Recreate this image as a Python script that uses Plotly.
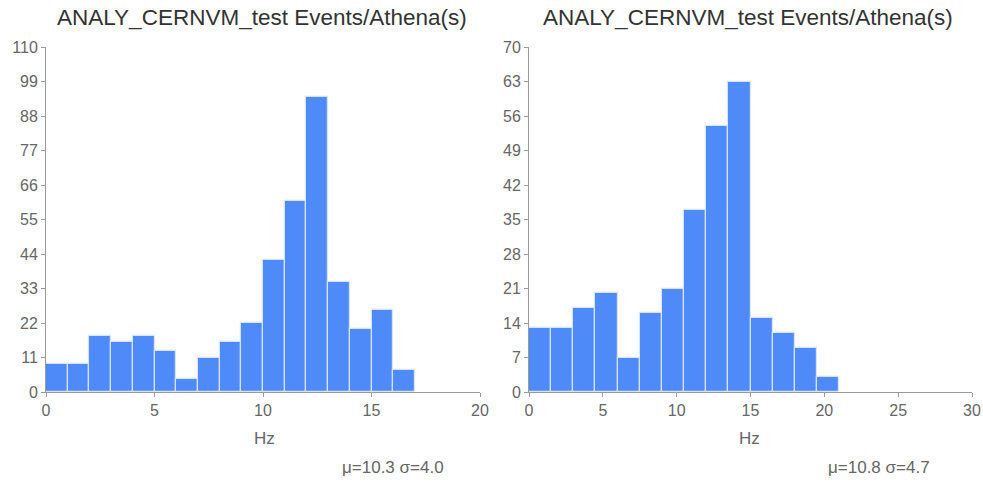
import plotly.graph_objects as go

# Left histogram (bin width 1)
left_edges_start = list(range(0, 17))
left_counts = [9, 9, 18, 16, 18, 13, 4, 11, 16, 22, 42, 61, 94, 35, 20, 26, 7]
left_bin_width = 1.0

# Right histogram (bin width 1.5)
right_edges_start = [i * 1.5 for i in range(14)]
right_counts = [13, 13, 17, 20, 7, 16, 21, 37, 54, 63, 15, 12, 9, 3]
right_bin_width = 1.5

titles = ["ANALY_CERNVM_test Events/Athena(s)", "ANALY_CERNVM_test Events/Athena(s)"]
stats = ["μ=10.3 σ=4.0", "μ=10.8 σ=4.7"]
xlabel = "Hz"

FONT = "Liberation Sans, Arial, sans-serif"
BAR = "#4e8af8"
AX = "#9a9a9a"

W, H = 983, 482
L, R, T, B = 46, 972, 47, 392  # plot area in pixels
PW, PH = R - L, B - T

def px(xp):
    return (xp - L) / PW

def py(yp):
    return (B - yp) / PH

fig = go.Figure()
fig.add_trace(go.Bar(
    x=[s + left_bin_width / 2 for s in left_edges_start], y=left_counts,
    width=left_bin_width, marker=dict(color=BAR, line=dict(color="#d6e4ff", width=1.2)),
    xaxis="x", yaxis="y", showlegend=False, hoverinfo="x+y"))
fig.add_trace(go.Bar(
    x=[s + right_bin_width / 2 for s in right_edges_start], y=right_counts,
    width=right_bin_width, marker=dict(color=BAR, line=dict(color="#d6e4ff", width=1.2)),
    xaxis="x2", yaxis="y2", showlegend=False, hoverinfo="x+y"))

axcommon = dict(showline=True, linecolor=AX, linewidth=1, ticks="outside", ticklen=4,
                tickcolor=AX, showgrid=False, zeroline=False, automargin=False,
                tickfont=dict(family=FONT, size=16, color="#666"))

fig.update_layout(
    width=W, height=H,
    margin=dict(l=L, r=W - R, t=T, b=H - B, pad=0, autoexpand=False),
    plot_bgcolor="white", paper_bgcolor="white", bargap=0,
    font=dict(family=FONT),
    xaxis=dict(domain=[0, px(480)], range=[0, 20], dtick=5, anchor="y", **axcommon),
    yaxis=dict(domain=[0, 1], range=[0, 110], dtick=11, anchor="x", **axcommon),
    xaxis2=dict(domain=[px(529), 1], range=[0, 30], dtick=5, anchor="y2", **axcommon),
    yaxis2=dict(domain=[0, 1], range=[0, 70], dtick=7, anchor="x2", **axcommon),
)

anns = []
for cx, t in [(262, titles[0]), (748, titles[1])]:
    anns.append(dict(x=px(cx), y=py(18), xref="paper", yref="paper", text=t,
                     showarrow=False, xanchor="center", yanchor="middle",
                     font=dict(family=FONT, size=22.5, color="#333")))
for cx in [264, 749]:
    anns.append(dict(x=px(cx), y=py(438), xref="paper", yref="paper", text=xlabel,
                     showarrow=False, xanchor="center", yanchor="middle",
                     font=dict(family=FONT, size=17, color="#666")))
for cx, s in [(393, stats[0]), (879, stats[1])]:
    anns.append(dict(x=px(cx), y=py(468), xref="paper", yref="paper", text=s,
                     showarrow=False, xanchor="center", yanchor="middle",
                     font=dict(family=FONT, size=17, color="#666")))
fig.update_layout(annotations=anns)

fig.write_html(
    "out.html",
    config={"displayModeBar": False},
    post_script="document.body.style.margin='0';document.body.style.padding='0';",
)
